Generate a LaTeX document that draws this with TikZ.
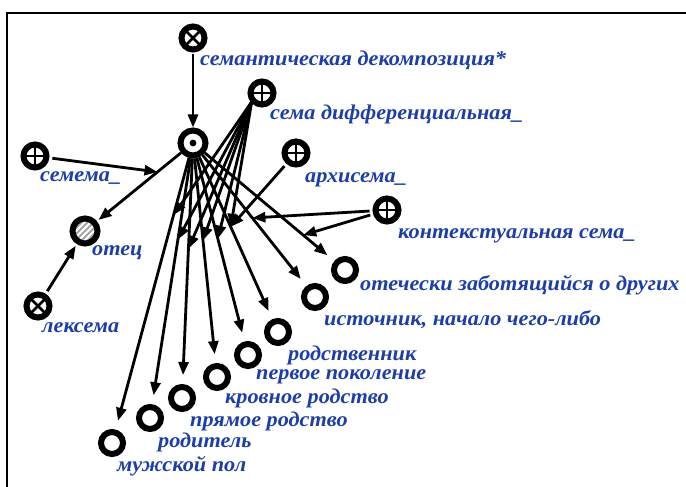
\documentclass[tikz,border=0pt]{standalone}
\usepackage{fontspec}
\setmainfont[FakeStretch=1.06]{Liberation Serif}
\usetikzlibrary{arrows.meta}
\definecolor{lblue}{RGB}{28,62,172}
\tikzset{
  ring/.style={circle, draw=black, line width=6pt, minimum size=23pt, inner sep=0pt},
  tring/.style={circle, draw=black, line width=6pt, minimum size=22pt, inner sep=0pt},
  plus/.style={ring, path picture={
      \draw[line width=2.2pt] (path picture bounding box.north) -- (path picture bounding box.south);
      \draw[line width=2.2pt] (path picture bounding box.west) -- (path picture bounding box.east);}},
  cross/.style={ring, path picture={
      \draw[line width=2.6pt] (path picture bounding box.north west) -- (path picture bounding box.south east);
      \draw[line width=2.6pt] (path picture bounding box.north east) -- (path picture bounding box.south west);}},
  dotted ring/.style={ring, minimum size=25pt, path picture={
      \fill (path picture bounding box.center) circle (3.4pt);}},
  hatched/.style={ring, minimum size=25pt, path picture={
      \foreach \k in {-4,...,4}{
        \draw[gray!70, line width=2pt] ([shift={(\k*6pt-20pt,-20pt)}]path picture bounding box.center) -- ++(40pt,40pt);}}},
  lbl/.style={text=lblue, font=\fontsize{21}{23}\selectfont\bfseries\itshape, anchor=west, inner sep=0pt},
  arr/.style={-{Triangle[length=13pt,width=10pt]}, line width=2.8pt},
}
\begin{document}
\begin{tikzpicture}[x=1pt,y=-1pt]
\useasboundingbox (0,0) rectangle (686,487);
\draw[line width=1.3pt] (7,487) -- (7,13) -- (686,13);

% nodes
\node[cross] (sd) at (193,38) {};
\node[plus] (diff) at (262,93) {};
\node[dotted ring] (c) at (193,143) {};
\node[plus] (sem) at (35,156) {};
\node[plus] (arch) at (296,153) {};
\node[plus] (ctx) at (387,210) {};
\node[hatched] (otec) at (85,231) {};
\node[cross] (lex) at (38,306) {};
\node[tring] (t1) at (112,443) {};
\node[tring] (t2) at (150,418) {};
\node[tring] (t3) at (182,398) {};
\node[tring] (t4) at (217,377) {};
\node[tring] (t5) at (248,355) {};
\node[tring] (t6) at (278,332) {};
\node[tring] (t7) at (315,297) {};
\node[tring] (t8) at (345,270) {};

% labels
\node[lbl] (lsd) at (200,60) {семантическая декомпозиция*};
\node[lbl] (ldiff) at (270,114) {сема дифференциальная\_};
\node[lbl] (lsem) at (40,178) {семема\_};
\node[lbl] (larch) at (305,180) {архисема\_};
\node[lbl] (lctx) at (398,236) {контекстуальная сема\_};
\node[lbl] (lotec) at (92,253) {отец};
\node[lbl] (llex) at (42,328) {лексема};
\node[lbl] (l8) at (360,285) {отечески заботящийся о других};
\node[lbl] (l7) at (324,320) {источник, начало чего-либо};
\node[lbl] (l6) at (288,355) {родственник};
\node[lbl] (l5) at (256,377) {первое поколение};
\node[lbl] (l4) at (225,398) {кровное родство};
\node[lbl] (l3) at (190,421) {прямое родство};
\node[lbl] (l2) at (158,442) {родитель};
\node[lbl] (l1) at (117,466) {мужской пол};

% points on edges
\path (c) -- (t1) coordinate[pos=0.21] (m1);
\path (c) -- (t2) coordinate[pos=0.33] (m2);
\path (c) -- (t3) coordinate[pos=0.40] (m3);
\path (c) -- (t4) coordinate[pos=0.40] (m4);
\path (c) -- (t5) coordinate[pos=0.44] (m5);
\path (c) -- (t6) coordinate[pos=0.43] (m6);
\path (c) -- (t7) coordinate[pos=0.48] (m7);
\path (c) -- (t8) coordinate[pos=0.76] (m8);
\path (c) -- (otec) coordinate[pos=0.28] (m0);
\coordinate (dfoot) at ([shift={(-2pt,3pt)}]diff.235);

% edges
\draw[arr, shorten <=2pt] (sd) -- (c);
\foreach \i in {1,...,8}{\draw[arr, shorten >=9pt] (c) -- (t\i);}
\draw[arr, shorten >=2pt] (c) -- (otec);
\draw[arr, shorten <=3pt, shorten >=2pt] (lex) -- (otec);
\draw[arr, shorten <=3pt] (sem) -- (m0);
\foreach \i in {1,...,6}{\draw[arr] (dfoot) -- (m\i);}
\draw[arr, shorten <=3pt] (arch) -- (m6);
\draw[arr, shorten <=3pt] (ctx) -- (m7);
\draw[arr, shorten <=3pt] (ctx) -- (m8);
\end{tikzpicture}
\end{document}
